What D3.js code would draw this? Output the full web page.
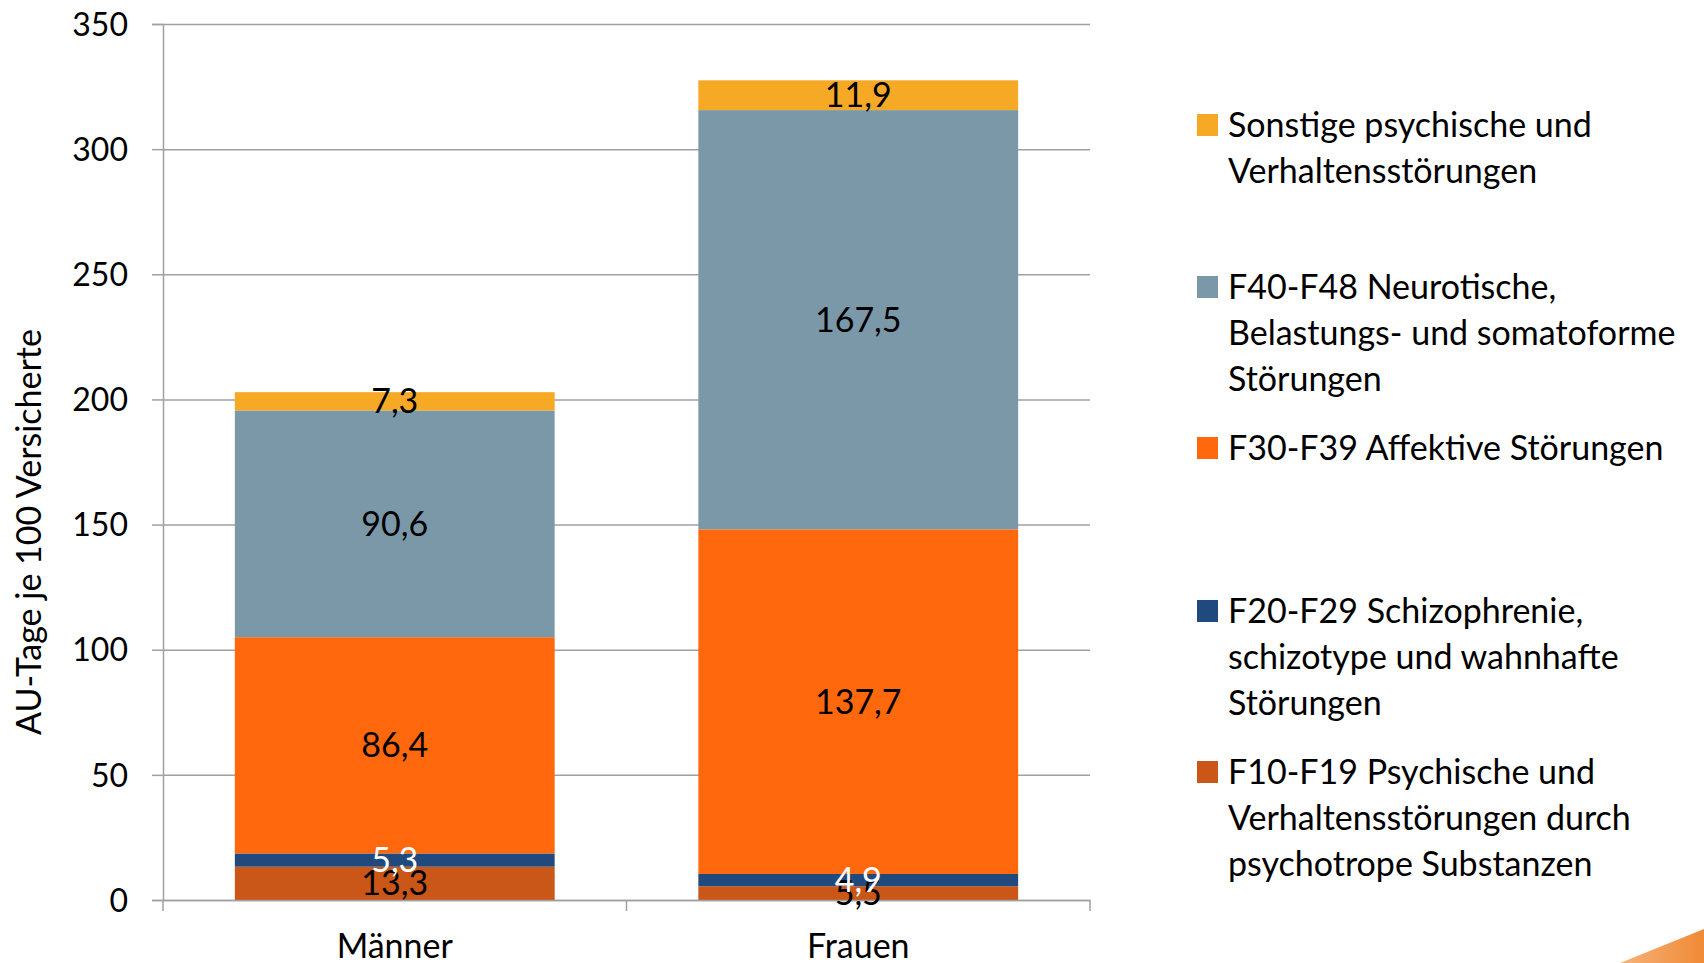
<!DOCTYPE html>
<html>
<head>
<meta charset="utf-8">
<script src="https://cdn.jsdelivr.net/npm/d3@7"></script>
<style>
    body { margin: 0; background: #fff; }
    svg { display: block; font-family: Lato, "Open Sans", sans-serif; }
    .grid line { stroke: #a0a0a0; stroke-width: 1.5; }
    .grid .domain { display: none; }
    .axis .domain, .axis line { stroke: #a0a0a0; stroke-width: 1.5; }
    .axis text { fill: #000; font-family: Lato, "Open Sans", sans-serif; }
</style>
</head>
<body>
<div id="chart"></div>
<script>
    // data, bottom segment first
    var categories = ["Männer", "Frauen"];
    var f10f19 = [13.3, 5.5];
    var f20f29 = [5.3, 4.9];
    var f30f39 = [86.4, 137.7];
    var f40f48 = [90.6, 167.5];
    var sonstige = [7.3, 11.9];
    var yTicks = [0, 50, 100, 150, 200, 250, 300, 350];

    var seriesKeys = ["f10", "f20", "f30", "f40", "sonst"];
    var seriesValues = [f10f19, f20f29, f30f39, f40f48, sonstige];
    var seriesColors = ["#ca5617", "#204a7e", "#ff680c", "#7b98a9", "#f6a925"];
    var labelColors = ["#000", "#fff", "#000", "#000", "#000"];

    // legend, top entry first (as in the picture)
    var legendItems = [
        {key: "sonst", lines: ["Sonstige psychische und", "Verhaltensstörungen"]},
        {key: "f40", lines: ["F40-F48 Neurotische,", "Belastungs- und somatoforme", "Störungen"]},
        {key: "f30", lines: ["F30-F39 Affektive Störungen"]},
        {key: "f20", lines: ["F20-F29 Schizophrenie,", "schizotype und wahnhafte", "Störungen"]},
        {key: "f10", lines: ["F10-F19 Psychische und", "Verhaltensstörungen durch", "psychotrope Substanzen"]}
    ];
    var legendRows = [125, 287, 448, 611, 772];

    var W = 1704, H = 963;
    var margin = {top: 24, left: 163},
        width = 1090 - margin.left,
        height = 900 - margin.top;

    var de = d3.formatLocale({decimal: ",", thousands: ".", grouping: [3], currency: ["", " €"]});
    var fmt = de.format(".1f");

    var table = categories.map(function (c, i) {
        var row = {cat: c};
        seriesKeys.forEach(function (k, j) { row[k] = seriesValues[j][i]; });
        return row;
    });
    var stacked = d3.stack().keys(seriesKeys)(table);
    var color = d3.scaleOrdinal().domain(seriesKeys).range(seriesColors);

    var x = d3.scaleBand().domain(categories).range([0, width])
        .paddingInner(0.31).paddingOuter(0.155);
    var y = d3.scaleLinear().domain([0, 350]).range([height, 0]);

    var svg = d3.select("#chart").append("svg")
        .attr("width", W)
        .attr("height", H);

    // decorative corner of the slide
    var grad = svg.append("defs").append("linearGradient")
        .attr("id", "corner").attr("x1", "0").attr("x2", "1").attr("y1", "0").attr("y2", "0");
    grad.append("stop").attr("offset", "0").attr("stop-color", "#f7b27a");
    grad.append("stop").attr("offset", "1").attr("stop-color", "#f08a35");
    svg.append("polygon")
        .attr("points", "1620,963 1704,929 1704,963")
        .style("fill", "url(#corner)");

    var g = svg.append("g")
        .attr("transform", "translate(" + margin.left + "," + margin.top + ")");

    g.append("g")
        .attr("class", "grid")
        .call(d3.axisLeft(y).tickValues(yTicks).tickSize(-width).tickFormat(""));

    // bars
    var layers = g.selectAll(".layer")
        .data(stacked)
        .enter().append("g")
        .attr("class", "layer")
        .style("fill", function (d) { return color(d.key); });

    layers.selectAll("rect")
        .data(function (d) { return d; })
        .enter().append("rect")
        .attr("x", function (d) { return x(d.data.cat); })
        .attr("width", x.bandwidth())
        .attr("y", function (d) { return y(d[1]); })
        .attr("height", function (d) { return y(d[0]) - y(d[1]); });

    // axes
    var yAxis = g.append("g")
        .attr("class", "axis")
        .call(d3.axisLeft(y).tickValues(yTicks).tickSize(11).tickPadding(24).tickFormat(d3.format("d")));
    yAxis.attr("font-family", null).attr("font-size", null);
    yAxis.selectAll("text").attr("dy", "0.35em").style("font-size", "32px");

    var xAxis = g.append("g")
        .attr("class", "axis")
        .attr("transform", "translate(0," + height + ")")
        .call(d3.axisBottom(x).tickSize(0));
    xAxis.attr("font-family", null).attr("font-size", null);
    xAxis.selectAll("text").attr("y", 58).attr("dy", null).style("font-size", "34px");
    // category separators
    var step = x.step();
    xAxis.selectAll(".sep")
        .data([0, step, 2 * step])
        .enter().append("line")
        .attr("class", "sep")
        .attr("x1", function (d) { return d; })
        .attr("x2", function (d) { return d; })
        .attr("y1", 0).attr("y2", 11);

    // value labels
    stacked.forEach(function (layer, j) {
        g.selectAll(".lbl" + j)
            .data(layer)
            .enter().append("text")
            .attr("x", function (d) { return x(d.data.cat) + x.bandwidth() / 2; })
            .attr("y", function (d) { return y((d[0] + d[1]) / 2); })
            .attr("dy", "0.35em")
            .attr("text-anchor", "middle")
            .style("font-size", "34px")
            .style("fill", labelColors[j])
            .text(function (d) { return fmt(d[1] - d[0]); });
    });

    // y title
    svg.append("text")
        .attr("transform", "translate(29," + 532 + ") rotate(-90)")
        .attr("text-anchor", "middle")
        .attr("dy", "0.35em")
        .style("font-size", "34px")
        .text("AU-Tage je 100 Versicherte");

    // legend
    var lineH = 46;
    var legend = svg.selectAll(".legend")
        .data(legendItems)
        .enter().append("g")
        .attr("class", "legend")
        .attr("transform", function (d, i) { return "translate(1197," + legendRows[i] + ")"; });

    legend.append("rect")
        .attr("x", 0).attr("y", -11)
        .attr("width", 21).attr("height", 22)
        .style("fill", function (d) { return color(d.key); });

    legend.append("text")
        .style("font-size", "34px")
        .selectAll("tspan")
        .data(function (d) { return d.lines; })
        .enter().append("tspan")
        .attr("x", 31)
        .attr("y", function (d, i) { return i * lineH; })
        .attr("dy", "0.35em")
        .text(function (d) { return d; });
</script>
</body>
</html>
